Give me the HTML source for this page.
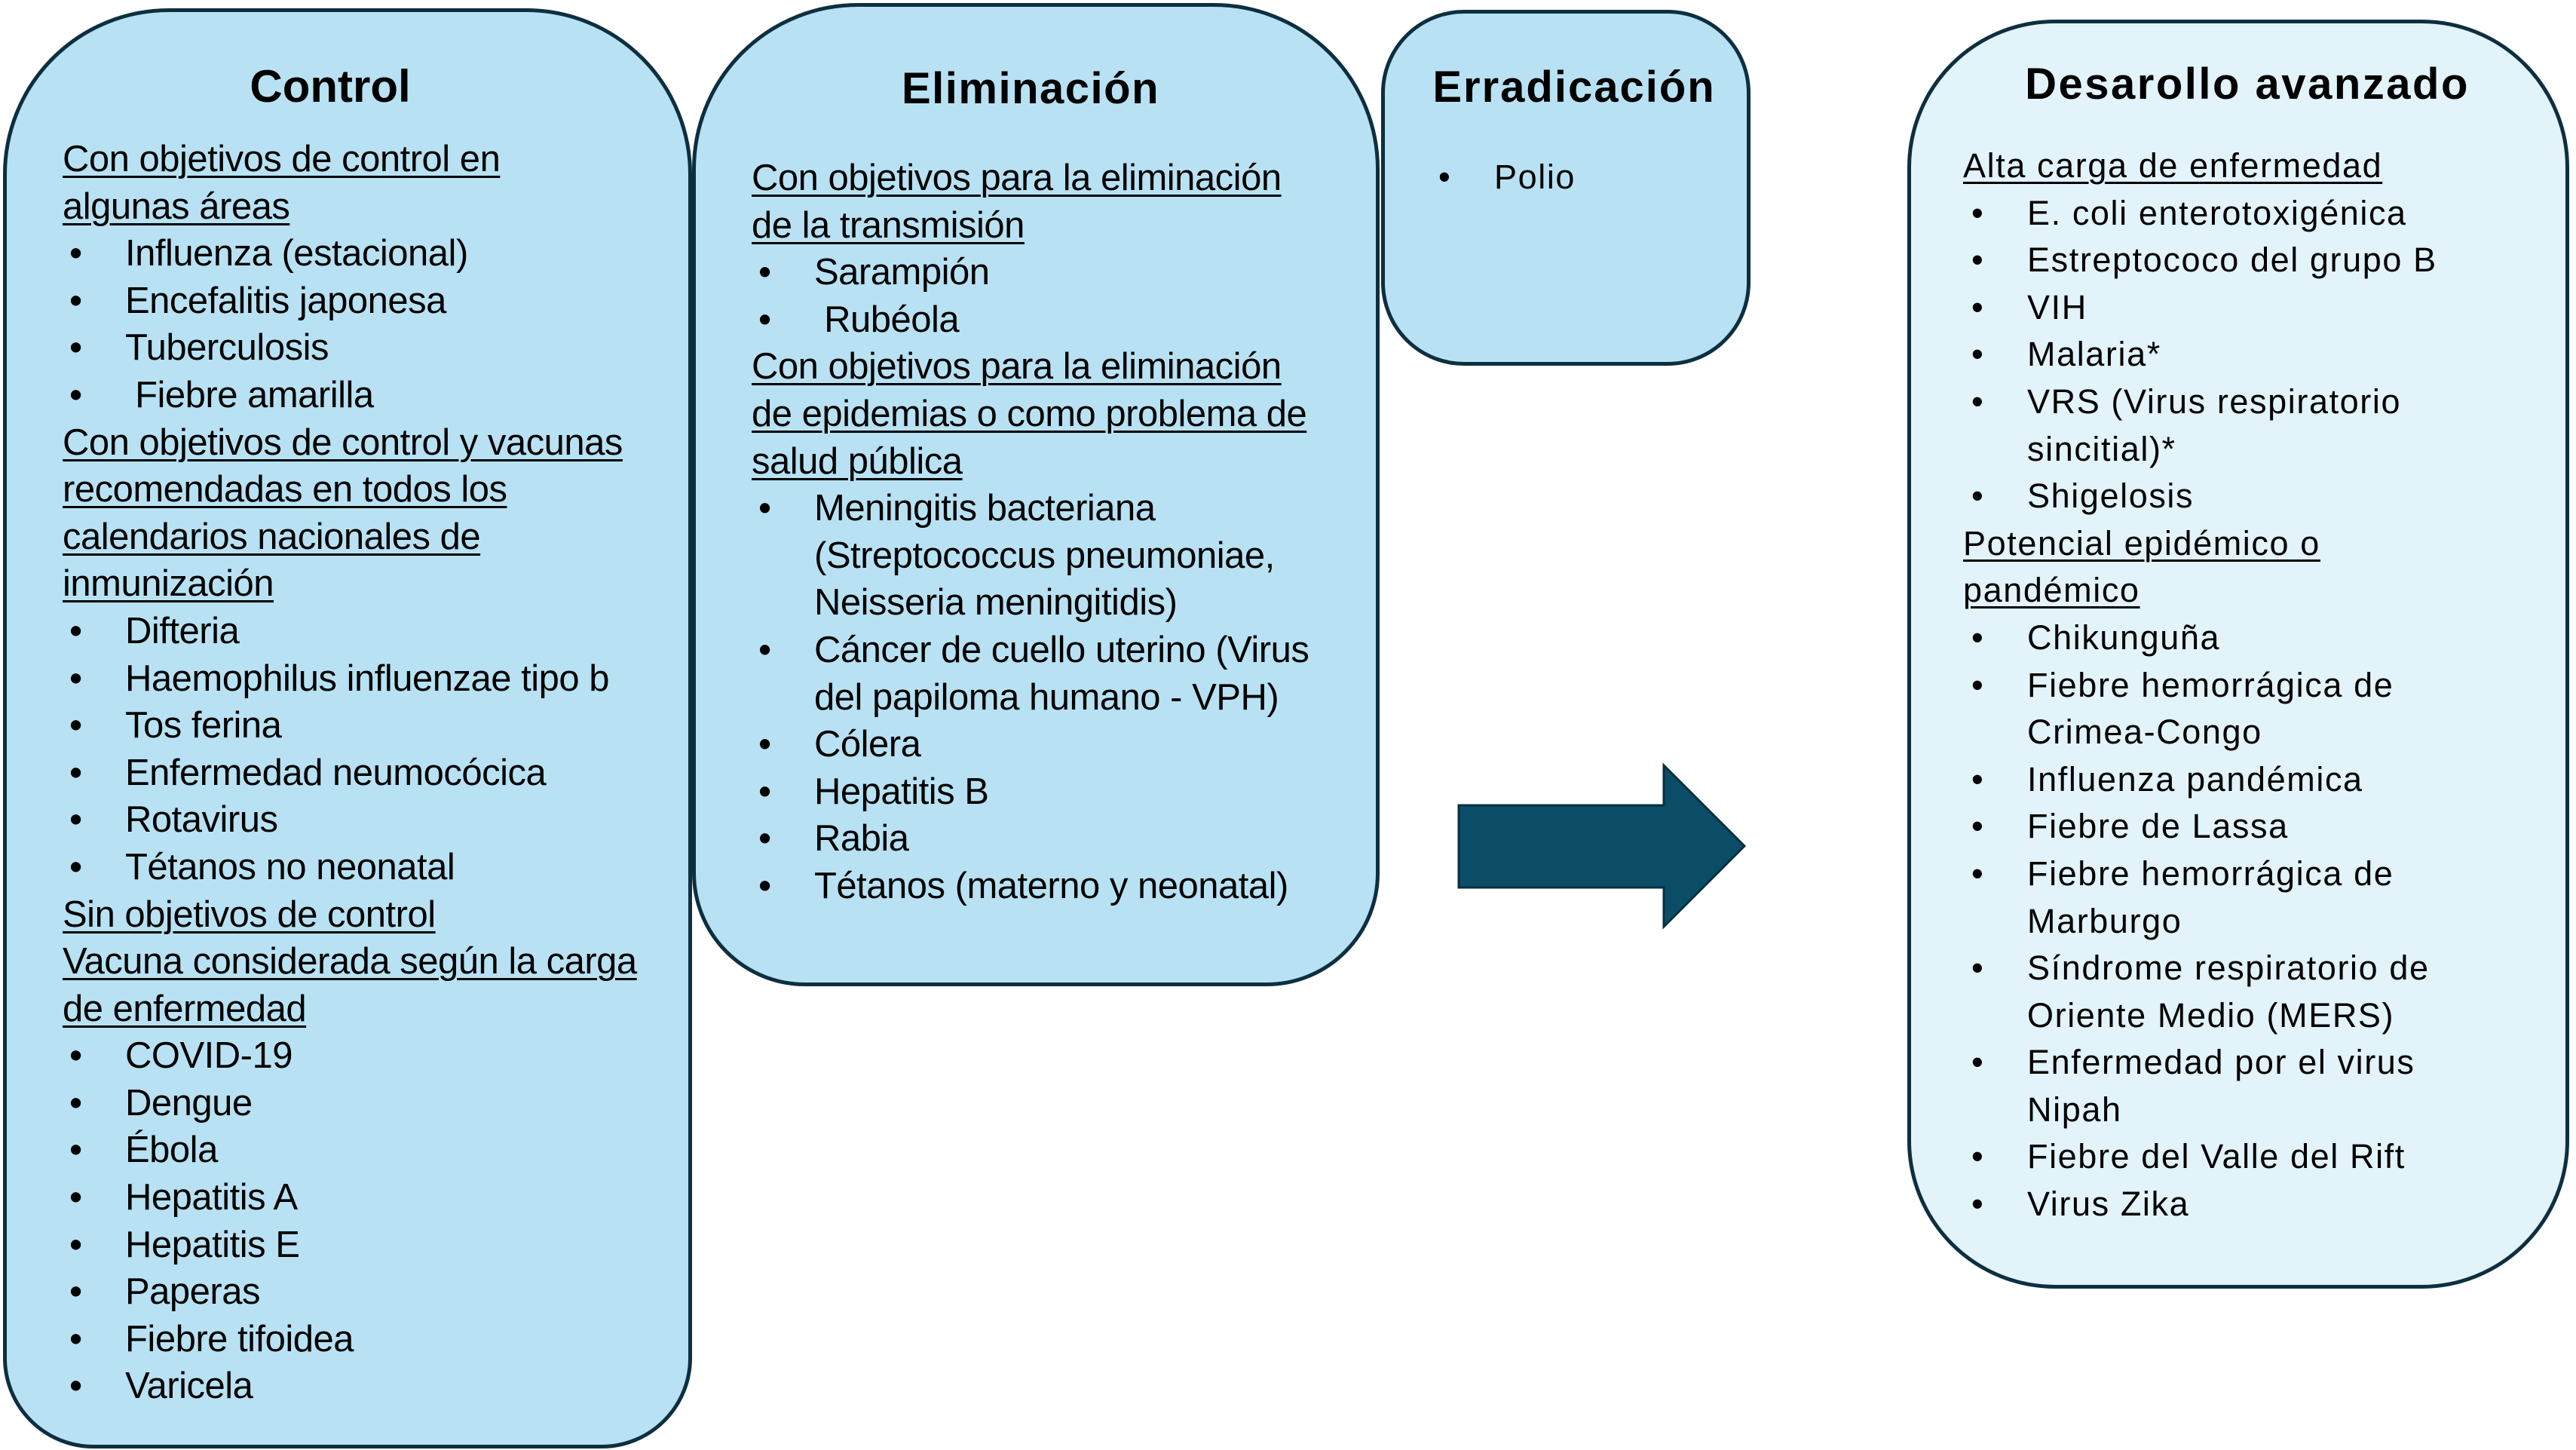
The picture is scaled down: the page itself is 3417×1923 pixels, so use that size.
<!DOCTYPE html>
<html><head><meta charset="utf-8"><style>
body{margin:0;width:3417px;height:1923px;background:#fff;position:relative;overflow:hidden;font-family:"Liberation Sans",sans-serif;color:#000}
.box{position:absolute;box-sizing:border-box;border:5px solid #0d2f40;background:#b8e2f3}
.t{position:absolute;font-weight:bold;white-space:nowrap;transform:translateX(-50%)}
.txt{position:absolute;line-height:62.6px;white-space:nowrap}
.n{font-size:49px;letter-spacing:-0.5px}
.w{font-size:45px;letter-spacing:1.6px}
.u{text-decoration:underline;text-decoration-thickness:3px;text-underline-offset:6px}
.b{position:relative}
.b::before{content:"•";position:absolute}
.n .b{padding-left:83px}.n .b::before{left:9px}
.w .b{padding-left:85px}.w .b::before{left:11px}
.nob::before{content:""!important}
</style></head><body>
<div class="box" style="left:4px;top:11px;width:914px;height:1910px;border-radius:220px 220px 120px 120px"></div>
<div class="box" style="left:918px;top:4px;width:912px;height:1304px;border-radius:220px 220px 150px 150px"></div>
<div class="box" style="left:1832px;top:13px;width:490px;height:472px;border-radius:110px"></div>
<div class="box" style="left:2530px;top:26px;width:878px;height:1683px;border-radius:196px;background:#e2f3f9"></div>

<svg style="position:absolute;left:0;top:0" width="3417" height="1923">
<polygon points="1935,1068 2207,1068 2207,1015 2314,1122 2207,1229 2207,1177 1935,1177" fill="#0b4d66" stroke="#082f40" stroke-width="3"/>
</svg>

<div class="t" style="left:438px;top:80px;font-size:60px">Control</div>
<div class="t" style="left:1367px;top:84px;font-size:58px;letter-spacing:1.5px">Eliminación</div>
<div class="t" style="left:2088px;top:82px;font-size:58px;letter-spacing:2px">Erradicación</div>
<div class="t" style="left:2981px;top:78px;font-size:58px;letter-spacing:2.5px">Desarollo avanzado</div>

<div class="txt n" style="left:83px;top:180px">
<div class="u">Con objetivos de control en</div>
<div class="u">algunas áreas</div>
<div class="b">Influenza (estacional)</div>
<div class="b">Encefalitis japonesa</div>
<div class="b">Tuberculosis</div>
<div class="b">&nbsp;Fiebre amarilla</div>
<div class="u">Con objetivos de control y vacunas</div>
<div class="u">recomendadas en todos los</div>
<div class="u">calendarios nacionales de</div>
<div class="u">inmunización</div>
<div class="b">Difteria</div>
<div class="b">Haemophilus influenzae tipo b</div>
<div class="b">Tos ferina</div>
<div class="b">Enfermedad neumocócica</div>
<div class="b">Rotavirus</div>
<div class="b">Tétanos no neonatal</div>
<div class="u">Sin objetivos de control</div>
<div class="u">Vacuna considerada según la carga</div>
<div class="u">de enfermedad</div>
<div class="b">COVID-19</div>
<div class="b">Dengue</div>
<div class="b">Ébola</div>
<div class="b">Hepatitis A</div>
<div class="b">Hepatitis E</div>
<div class="b">Paperas</div>
<div class="b">Fiebre tifoidea</div>
<div class="b">Varicela</div>
</div>

<div class="txt n" style="left:997px;top:205px">
<div class="u">Con objetivos para la eliminación</div>
<div class="u">de la transmisión</div>
<div class="b">Sarampión</div>
<div class="b">&nbsp;Rubéola</div>
<div class="u">Con objetivos para la eliminación</div>
<div class="u">de epidemias o como problema de</div>
<div class="u">salud pública</div>
<div class="b">Meningitis bacteriana</div>
<div class="b nob">(Streptococcus pneumoniae,</div>
<div class="b nob">Neisseria meningitidis)</div>
<div class="b">Cáncer de cuello uterino (Virus</div>
<div class="b nob">del papiloma humano - VPH)</div>
<div class="b">Cólera</div>
<div class="b">Hepatitis B</div>
<div class="b">Rabia</div>
<div class="b">Tétanos (materno y neonatal)</div>
</div>

<div class="txt w" style="left:1897px;top:204px">
<div class="b">Polio</div>
</div>

<div class="txt w" style="left:2604px;top:189px">
<div class="u">Alta carga de enfermedad</div>
<div class="b">E. coli enterotoxigénica</div>
<div class="b">Estreptococo del grupo B</div>
<div class="b">VIH</div>
<div class="b">Malaria*</div>
<div class="b">VRS (Virus respiratorio</div>
<div style="padding-left:85px">sincitial)*</div>
<div class="b">Shigelosis</div>
<div class="u">Potencial epidémico o</div>
<div class="u">pandémico</div>
<div class="b">Chikunguña</div>
<div class="b">Fiebre hemorrágica de</div>
<div style="padding-left:85px">Crimea-Congo</div>
<div class="b">Influenza pandémica</div>
<div class="b">Fiebre de Lassa</div>
<div class="b">Fiebre hemorrágica de</div>
<div style="padding-left:85px">Marburgo</div>
<div class="b">Síndrome respiratorio de</div>
<div style="padding-left:85px">Oriente Medio (MERS)</div>
<div class="b">Enfermedad por el virus</div>
<div style="padding-left:85px">Nipah</div>
<div class="b">Fiebre del Valle del Rift</div>
<div class="b">Virus Zika</div>
</div>
</body></html>
